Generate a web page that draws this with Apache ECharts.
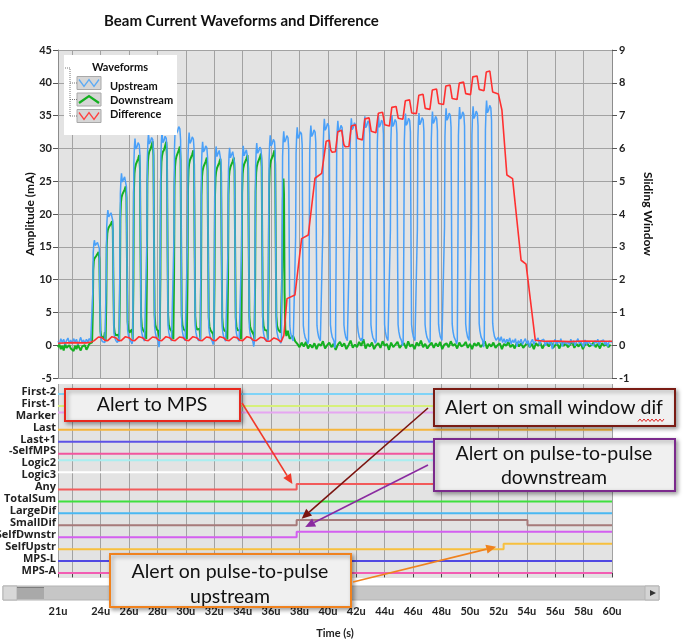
<!DOCTYPE html>
<html><head><meta charset="utf-8">
<script src="https://cdn.jsdelivr.net/npm/echarts@6.0.0/dist/echarts.min.js"></script>
<style>html,body{margin:0;padding:0;background:#fff}#c{width:686px;height:643px}</style>
</head><body><div id="c"></div>
<script>
// ---------- data ----------
const xGridValues = [22,24,26,28,30,32,34,36,38,40,42,44,46,48,50,52,54,56,58];
const xTickValues = [21,22,24,26,28,30,32,34,36,38,40,42,44,46,48,50,52,54,56,58,60];
const xLabelValues = [21,24,26,28,30,32,34,36,38,40,42,44,46,48,50,52,54,56,58,60];

const pulseStart = [23.43,24.38,25.34,26.29,27.24,28.19,29.15,30.10,31.05,32.00,32.95,33.91,34.86,35.81,36.76,37.71,38.67,39.62,40.57,41.52,42.47,43.43,44.38,45.33,46.28,47.23,48.19,49.14,50.09,51.04];
const upstreamPeak = [16.0,20.6,26.2,31.5,32.3,32.5,34.0,32.4,31.0,30.3,30.1,30.4,30.8,32.0,32.6,33.2,33.5,34.5,34.2,34.6,34.9,35.0,35.1,35.3,35.4,35.6,36.1,36.3,36.4,37.3];
const downstreamPeak = [14.2,18.9,24.2,29.0,31.1,31.0,30.3,29.7,28.6,28.4,28.6,29.0,29.2,29.7];
const pulseOffset = [-0.03,0.02,0.05,0.09,0.13,0.19,0.27,0.35,0.43,0.48,0.52,0.56,0.61,0.69,0.8];
const upstreamShape = [0.02,0.5,0.88,0.96,1.0,0.95,0.96,0.98,0.97,0.92,0.45,0.09,0.06,0.035,0.02];
const downstreamShape = [0.03,0.35,0.8,0.9,0.93,0.95,0.96,0.98,1.0,0.93,0.5,0.15,0.1,0.08,0.07];
const gapOffset = 0.87;
const upstreamGapNoise = [0.4,1.1,0.2,0.8,-0.3,0.9,0.5,1.2,0.1,0.7,0.6,-0.2,1.0,0.3,0.8,0.2,0.9,-0.4,0.6,1.1,0.3,0.7,-0.1,0.9,0.4,1.0,0.2,0.6,-0.3,0.8];
const downstreamGapNoise = [2.0,1.6,2.4,1.8,2.2,1.5,2.1,2.5,1.7,2.0,2.3,1.6,2.2,1.9];
const upstreamPre = [0.6,0.2,1.0,0.4,0.9,0.1,0.7,1.1,0.3,0.8,0.2,1.0,0.5,0.9,0.1,0.6,1.2,0.4,0.8,0.3,0.9,0.5,1.0,0.6];
const downstreamPre = [-0.3,0.1,-0.6,-0.1,-0.8,0.2,-0.4,-0.7,0.0,-0.5,-0.2,-0.9,-0.1,-0.6,0.1,-0.4,-0.8,-0.2,-0.5,0.0,-0.7,-0.3,0.2,-0.1];
const downstreamFailPulse = [[36.74,1.6],[36.79,12],[36.83,22],[36.87,25.4],[36.91,23],[36.95,8],[37.0,2.5],[37.08,1.4],[37.18,2.2],[37.3,1.0]];
const upstreamPost = [
1.2,0.6,1.3,0.4,1.0,0.3,0.9,0.5,1.1,0.2,
0.8,0.4,1.0,-0.2,0.7,0.3,0.9,0.1,0.6,1.0,
0.2,0.7,-0.3,0.5,0.9,0.1,0.6,0.3,1.1,0.0,
0.7,0.4,0.9,-0.1,0.5,0.8,0.2,0.6,-0.6,0.4,
0.9,0.1,0.7,0.3,1.0,-0.2,0.5,0.8,0.2,0.6,
0.0,0.9,0.3,0.7,-0.1,0.5,1.0,0.2,0.6,0.4,
-0.3,0.8,0.1,0.6,0.9,0.2,0.5,-0.1,0.7,0.3,
0.9,0.0,0.6,0.4,0.8,0.1,0.5,-0.2,0.6,0.3,
0.5];
const downstreamPost = [
0.9,1.4,0.6,0.2,-0.3,0.4,-0.2,0.5,-0.5,0.1,
-0.4,0.3,-0.6,0.2,-0.1,0.6,-0.5,0.0,0.4,-0.3,
0.2,-0.7,0.1,0.5,-0.2,0.3,-0.6,0.0,0.7,-0.4,
0.1,-0.3,0.5,-0.1,0.9,-0.5,0.2,-0.2,0.4,-0.6,
0.0,0.3,-0.4,0.6,-0.1,0.2,-0.7,0.4,-0.3,0.1,
0.5,-0.4,0.0,0.3,-0.5,0.6,-0.2,0.1,-0.6,0.4,
-0.1,0.7,-0.3,0.2,-0.5,0.0,0.4,-0.4,0.3,-0.2,
0.5,-0.6,0.1,0.3,-0.3,0.6,-0.1,0.2,-0.5,0.4,
-0.2,0.0,0.5,-0.4,0.2,-0.6,0.3,-0.1,0.4,-0.3,
0.1,0.6,-0.5,0.2,-0.2,0.4,-0.4,0.0,0.3,-0.6,
0.2,-0.1,0.5,-0.3,0.1,-0.5,0.4,-0.2,0.3,-0.4,
0.0,0.5,-0.3,0.2,-0.6,0.3,-0.1,0.4,-0.5,0.1,
0.3,-0.2,0.6,-0.4,0.0,0.2,-0.5,0.4,-0.1,0.3,
-0.3,0.1,0.5,-0.4,0.2,-0.2,0.4,-0.6,0.1,0.3,
-0.2,0.0,0.4,-0.3,0.2,-0.5,0.3,-0.1,0.2,-0.3,
0.1];
const differenceWave = [
[21.0,0.06],[22.0,0.08],[23.0,0.07],[23.35,0.1],
[23.55,0.14],[23.85,0.25],[24.1,0.23],[24.3,0.15],
[24.5,0.14],[24.8,0.26],[25.05,0.23],[25.25,0.15],
[25.45,0.14],[25.75,0.26],[26.0,0.23],[26.2,0.15],
[26.4,0.14],[26.7,0.26],[26.95,0.23],[27.15,0.15],
[27.35,0.14],[27.65,0.25],[27.9,0.23],[28.1,0.15],
[28.3,0.14],[28.6,0.26],[28.85,0.23],[29.05,0.15],
[29.25,0.14],[29.55,0.25],[29.8,0.23],[30.0,0.15],
[30.2,0.14],[30.5,0.26],[30.75,0.23],[30.95,0.15],
[31.15,0.14],[31.45,0.25],[31.7,0.23],[31.9,0.15],
[32.1,0.14],[32.4,0.26],[32.65,0.23],[32.85,0.15],
[33.05,0.14],[33.35,0.25],[33.6,0.23],[33.8,0.15],
[34.0,0.14],[34.3,0.26],[34.55,0.23],[34.75,0.15],
[34.95,0.14],[35.25,0.24],[35.5,0.22],[35.7,0.12],
[35.9,0.12],[36.2,0.22],[36.45,0.18],[36.7,0.1],
[36.8,0.15],[36.9,0.3],[37.12,1.42],[37.68,1.53],
[38.15,3.25],[38.62,3.36],
[39.09,5.09],[39.56,5.24],
[39.88,6.22],[40.0,6.27],[40.1,6.25],[40.2,5.95],[40.3,5.88],[40.53,5.9],
[40.7,6.51],[40.8,6.56],[40.97,6.55],[41.12,6.12],[41.22,6.05],[41.48,6.06],
[41.65,6.68],[41.75,6.74],[41.95,6.72],[42.1,6.3],[42.2,6.24],[42.43,6.26],
[42.6,6.9],[42.7,6.95],[42.9,6.93],[43.05,6.52],[43.15,6.46],[43.38,6.48],
[43.55,7.07],[43.65,7.12],[43.85,7.1],[44.0,6.72],[44.1,6.66],[44.33,6.68],
[44.5,7.25],[44.6,7.3],[44.8,7.28],[44.95,6.92],[45.05,6.87],[45.28,6.89],
[45.45,7.45],[45.55,7.5],[45.75,7.48],[45.9,7.08],[46.0,7.04],[46.23,7.06],
[46.4,7.62],[46.5,7.67],[46.7,7.65],[46.85,7.22],[46.95,7.17],[47.18,7.19],
[47.35,7.78],[47.45,7.83],[47.65,7.81],[47.8,7.37],[47.9,7.32],[48.14,7.34],
[48.3,7.9],[48.4,7.95],[48.6,7.93],[48.75,7.52],[48.85,7.47],[49.09,7.49],
[49.25,7.99],[49.35,8.04],[49.55,8.02],[49.7,7.67],[49.8,7.62],[50.04,7.64],
[50.2,8.18],[50.3,8.23],[50.5,8.21],[50.65,7.8],[50.75,7.74],[50.99,7.76],
[51.15,8.33],[51.25,8.39],[51.4,8.36],[51.6,7.72],[51.7,7.68],[52.0,7.66],
[52.25,7.17],[52.6,5.19],[53.0,5.08],[53.6,2.59],[53.95,2.47],[54.6,0.15],
[55.2,0.12],[56.0,0.13],[57.0,0.11],[58.0,0.13],[59.0,0.12],[60.0,0.12]];

const signalNames = ['First-2','First-1','Marker','Last','Last+1','-SelfMPS','Logic2','Logic3','Any','TotalSum','LargeDif','SmallDif','SelfDwnstr','SelfUpstr','MPS-L','MPS-A'];
const signalInitial = [0,0,1,0,0,0,1,1,0,0,0,0,0,0,0,0];
const signalEdges = [[],[],[],[],[],[],[],[],[37.8],[],[],[37.8,54.05],[37.8],[52.37],[],[]];
const signalColors = ['#7fd3f7','#d6f07a','#e6a6f2','#f5b53c','#5c52e6','#f2559e','#a9eef0','#ffffff','#f25a5a','#3ee03e','#4ab8f2','#a67a7a','#d35ff0','#f7c03e','#5048e2','#f25db3'];

// ---------- build series ----------
const upstream = [];
upstreamPre.forEach((v,k)=>upstream.push([21+k*0.1, v]));
pulseStart.forEach((s,i)=>{
  pulseOffset.forEach((o,j)=>upstream.push([s+o, upstreamPeak[i]*upstreamShape[j]]));
  upstream.push([s+gapOffset, upstreamGapNoise[i]]);
});
upstreamPost.forEach((v,k)=>upstream.push([52+k*0.1, v]));

const downstream = [];
downstreamPre.forEach((v,k)=>downstream.push([21+k*0.1, v]));
downstreamPeak.forEach((p,i)=>{
  const s = pulseStart[i];
  pulseOffset.forEach((o,j)=>downstream.push([s+o, p*downstreamShape[j]]));
  downstream.push([s+gapOffset, downstreamGapNoise[i]]);
});
downstreamFailPulse.forEach(pt=>downstream.push(pt));
downstreamPost.forEach((v,k)=>downstream.push([37.4+k*0.15, v]));

const HIGH = 0.45, LABEL_OFF = 0.2;
const rowOf = i => signalNames.length-1-i;
const signalSeries = signalNames.map((name,i)=>{
  const r = rowOf(i); let st = signalInitial[i];
  const pts = [[21, r+st*HIGH]];
  signalEdges[i].forEach(t=>{ pts.push([t, r+st*HIGH]); st = 1-st; pts.push([t, r+st*HIGH]); });
  pts.push([60, r+st*HIGH]);
  return {name:'sig_'+name, type:'line', xAxisIndex:1, yAxisIndex:2, data:pts, symbol:'none', silent:true,
    lineStyle:{color:signalColors[i], width:2}, z:3};
});
const rowLabelValues = signalNames.map((n,i)=>rowOf(i)+LABEL_OFF);

const F = 'Lato, "Open Sans", sans-serif';
const F2 = '"Open Sans", Lato, sans-serif';
const gridColor = '#a2a2a2';

const chart = echarts.init(document.getElementById('c'));
const option = {
  animation:false,
  backgroundColor:'#ffffff',
  title:{text:'Beam Current Waveforms and Difference', left:99, top:9,
    textStyle:{fontFamily:F, fontSize:15, fontWeight:'bold', color:'#111'}},
  legend:{
    data:['Upstream','Downstream','Difference'], icon:'rect',
    orient:'vertical', left:78, top:76, itemWidth:22, itemHeight:10, itemGap:3, z:6,
    textStyle:{fontFamily:F, fontWeight:'bold', fontSize:11, color:'#111'},
    itemStyle:{opacity:0, borderWidth:0}
  },
  grid:[
    {left:58, top:50, width:554, height:328, show:true, backgroundColor:'#e3e3e3', borderWidth:0, outerBoundsMode:'none', containLabel:false},
    {left:58, top:384, width:554, height:194, show:true, backgroundColor:'#e3e3e3', borderWidth:0, outerBoundsMode:'none', containLabel:false}
  ],
  xAxis:[
    {gridIndex:0, type:'value', min:21, max:60,
      axisLine:{show:false}, axisTick:{show:false, customValues:xGridValues}, axisLabel:{show:false},
      splitLine:{show:true, lineStyle:{color:gridColor, width:1}}},
    {gridIndex:1, type:'value', min:21, max:60, offset:25,
      axisLine:{show:false},
      axisTick:{show:true, customValues:xTickValues, length:4, lineStyle:{color:'#444'}},
      axisLabel:{customValues:xLabelValues, formatter:v=>v+'u', margin:3, fontFamily:F, fontWeight:'bold', fontSize:11, color:'#222'},
      splitLine:{show:true, lineStyle:{color:gridColor, width:1}},
      name:'Time (s)', nameLocation:'middle', nameGap:25, nameMoveOverlap:false,
      nameTextStyle:{fontFamily:F, fontWeight:'bold', fontSize:11, color:'#222'}}
  ],
  yAxis:[
    {gridIndex:0, type:'value', min:-5, max:45, interval:5, position:'left',
      axisLine:{show:true, lineStyle:{color:'#8c8c8c'}},
      axisTick:{show:true, length:5, lineStyle:{color:'#555'}},
      axisLabel:{margin:6, fontFamily:F, fontWeight:'bold', fontSize:11, color:'#222'},
      splitLine:{show:true, lineStyle:{color:gridColor, width:1}},
      name:'Amplitude (mA)', nameLocation:'middle', nameGap:22, nameRotate:90, nameMoveOverlap:false,
      nameTextStyle:{fontFamily:F, fontWeight:'bold', fontSize:12, color:'#111'}},
    {gridIndex:0, type:'value', min:-1, max:9, interval:1, position:'right',
      axisLine:{show:true, lineStyle:{color:'#8c8c8c'}},
      axisTick:{show:true, length:5, lineStyle:{color:'#555'}},
      axisLabel:{margin:7, fontFamily:F, fontWeight:'bold', fontSize:11, color:'#222'},
      splitLine:{show:false},
      name:'Sliding Window', nameLocation:'middle', nameGap:30, nameRotate:-90, nameMoveOverlap:false,
      nameTextStyle:{fontFamily:F, fontWeight:'bold', fontSize:12, color:'#111'}},
    {gridIndex:1, type:'value', min:-0.42, max:15.84,
      axisLine:{show:false}, axisTick:{show:false}, splitLine:{show:false},
      axisLabel:{customValues:rowLabelValues, margin:2, formatter:v=>signalNames[signalNames.length-1-Math.round(v-LABEL_OFF)],
        fontFamily:F2, fontWeight:'bold', fontSize:11, color:'#222'}}
  ],
  series:[
    {name:'Upstream', type:'line', xAxisIndex:0, yAxisIndex:0, data:upstream, symbol:'none',
      lineStyle:{color:'#4aa0f8', width:1.5}, itemStyle:{color:'#4aa0f8'}, z:2},
    {name:'Downstream', type:'line', xAxisIndex:0, yAxisIndex:0, data:downstream, symbol:'none',
      lineStyle:{color:'#14b020', width:2}, itemStyle:{color:'#14b020'}, z:1},
    {name:'Difference', type:'line', xAxisIndex:0, yAxisIndex:1, data:differenceWave, symbol:'none',
      lineStyle:{color:'#ff3030', width:1.6}, itemStyle:{color:'#ff3030'}, z:3},
    ...signalSeries
  ]
};
chart.setOption(option);

// ---------- annotations ----------
function arrow(x1,y1,x2,y2,color,w){
  const a = Math.atan2(y2-y1,x2-x1), L=10, H=4.5;
  const bx = x2-L*Math.cos(a), by = y2-L*Math.sin(a), px=-Math.sin(a), py=Math.cos(a);
  return [
    {type:'line', shape:{x1:x1,y1:y1,x2:bx,y2:by}, style:{stroke:color, lineWidth:w}, z:30},
    {type:'polygon', shape:{points:[[x2,y2],[bx+H*px,by+H*py],[bx-H*px,by-H*py]]}, style:{fill:color}, z:30}
  ];
}
function box(x,y,w,h,color,text,cx,cy,lh){
  return [
    {type:'rect', shape:{x:x,y:y,width:w,height:h}, style:{fill:'#f0f0f0', stroke:color, lineWidth:2,
      shadowBlur:4, shadowOffsetX:2, shadowOffsetY:2, shadowColor:'rgba(0,0,0,0.35)'}, z:28},
    {type:'text', style:{text:text, x:cx, y:cy, align:'center', verticalAlign:'middle', font:'19.5px Lato', fill:'#111', lineHeight:lh||22}, z:29}
  ];
}
const P = v => chart.convertToPixel({xAxisIndex:1, yAxisIndex:2}, v);
const tAny = P([37.5, 7.45]), tSmall = P([38.15, 4.55]), tDown = P([38.4, 3.85]), tUp = P([51.85, 2.2]);

const squiggle = [];
for (let x=638; x<=665; x+=2) squiggle.push([x, (x/2)%2===0 ? 419 : 421.5]);

const treeStyle = {stroke:'#777', lineWidth:1, lineDash:[1,1]};
const iconBox = y => ({type:'rect', shape:{x:77,y:y,width:24,height:13}, style:{fill:'#d6d6d6', stroke:'#a8a8a8', lineWidth:1}, z:5});
const graphic = [
  // legend frame and glyphs
  {type:'rect', shape:{x:64,y:55,width:113,height:80}, style:{fill:'#ffffff'}, z:5},
  {type:'text', style:{text:'Waveforms', x:120, y:67, align:'center', verticalAlign:'middle', font:'bold 11px Lato', fill:'#111'}, z:6},
  {type:'polyline', shape:{points:[[65,68],[70,68],[70,116]]}, style:treeStyle, z:6},
  {type:'line', shape:{x1:70,y1:83,x2:77,y2:83}, style:treeStyle, z:6},
  {type:'line', shape:{x1:70,y1:99.5,x2:77,y2:99.5}, style:treeStyle, z:6},
  {type:'line', shape:{x1:70,y1:116,x2:77,y2:116}, style:treeStyle, z:6},
  iconBox(76.5), iconBox(93), iconBox(109.5),
  {type:'polyline', shape:{points:[[79,79.5],[84,86.5],[89,79.5],[94,86.5],[99,79.5]]}, style:{stroke:'#5aaaf5', lineWidth:1.3, fill:null}, z:6},
  {type:'polyline', shape:{points:[[79,103],[89,96],[99,103]]}, style:{stroke:'#14b020', lineWidth:2.2, fill:null}, z:6},
  {type:'polyline', shape:{points:[[79,112.5],[84,119.5],[89,112.5],[94,119.5],[99,112.5]]}, style:{stroke:'#ff4040', lineWidth:1.3, fill:null}, z:6},
  // scrollbar
  {type:'rect', shape:{x:3,y:586,width:656,height:14}, style:{fill:'#c6c6c6', stroke:'#b4b4b4', lineWidth:1}, z:5},
  {type:'rect', shape:{x:3,y:586,width:14,height:14}, style:{fill:'#d8d8d8', stroke:'#b4b4b4', lineWidth:1}, z:5},
  {type:'rect', shape:{x:17,y:587,width:27,height:12}, style:{fill:'#a9a9a9'}, z:5},
  {type:'line', shape:{x1:17,y1:587.5,x2:44,y2:587.5}, style:{stroke:'#7d7d7d', lineWidth:1}, z:5},
  {type:'rect', shape:{x:645,y:586,width:14,height:14}, style:{fill:'#d4d4d4', stroke:'#b4b4b4', lineWidth:1}, z:5},
  {type:'polygon', shape:{points:[[650,590],[656,593],[650,596]]}, style:{fill:'#333'}, z:6},
  // callouts
  ...box(65,389,175,32,'#e8281e','Alert to MPS',152,405),
  ...arrow(242,403,tAny[0],tAny[1],'#f03a2a',1.6),
  ...box(434,389,241,37,'#7a1c14','Alert on small window dif',554,408),
  {type:'polyline', shape:{points:squiggle}, style:{stroke:'#e02020', lineWidth:1, fill:null}, z:30},
  ...arrow(428,408,tSmall[0],tSmall[1],'#7a1410',1.6),
  ...box(434,439,241,52,'#7b2a8c','Alert on pulse-to-pulse\ndownstream',554,466,24),
  ...arrow(428,465,tDown[0],tDown[1],'#8a2aa0',1.6),
  ...box(110,554,241,53,'#f0821e','Alert on pulse-to-pulse\nupstream',230,584,25),
  ...arrow(353,582,tUp[0],tUp[1],'#f0821e',1.6)
];
chart.setOption({graphic:graphic});
</script></body></html>
